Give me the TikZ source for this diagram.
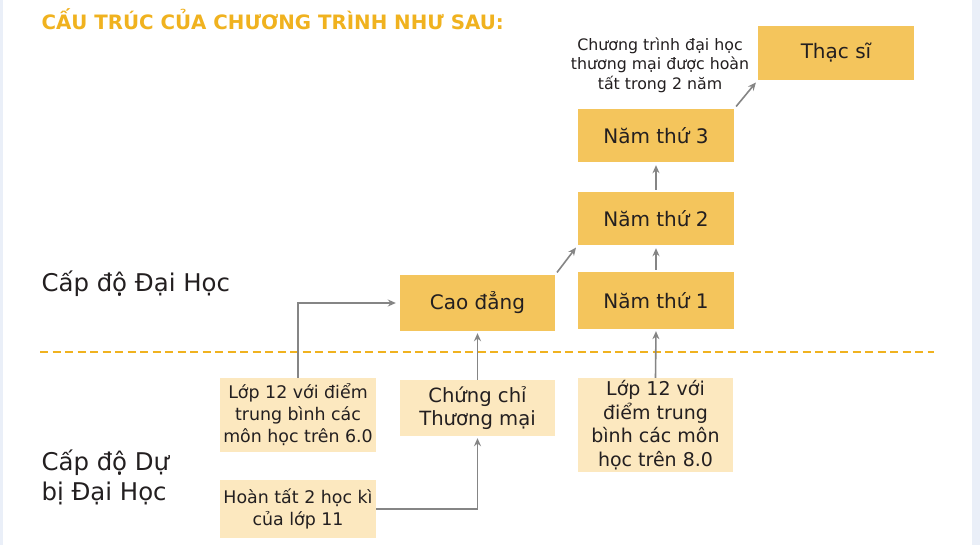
\documentclass[tikz,border=0pt]{standalone}
\usepackage{fontspec}
\setmainfont{DejaVu Sans}
\usetikzlibrary{arrows.meta}
\definecolor{vang}{HTML}{F4C55C}
\definecolor{kem}{HTML}{FCE8BF}
\definecolor{cam}{HTML}{F0B21F}
\definecolor{xam}{HTML}{858585}
\definecolor{chu}{HTML}{231F20}
\definecolor{vien}{HTML}{EAEFF8}

\begin{document}
\begin{tikzpicture}[x=1pt,y=-1pt,
    khoi/.style={fill=vang,text=chu,minimum width=156pt,minimum height=54pt,inner sep=0pt,
      font=\fontsize{20}{24}\selectfont},
    nhat/.style={fill=kem,text=chu,minimum width=156pt,inner sep=0pt,align=center,
      font=\fontsize{17.4}{22}\selectfont},
    mui/.style={draw=xam,line width=1.6pt,-{Stealth[length=8pt,width=7pt]}}]
    \fill[vien] (0,0) rectangle (980,545);
    \fill[white] (3,0) rectangle (972,545);
    \useasboundingbox (0,0) rectangle (980,545);

    \node[anchor=west,text=cam,font=\fontsize{19.8}{22}\selectfont\bfseries] (tieude) at (38,19)
      {CẤU TRÚC CỦA CHƯƠNG TRÌNH NHƯ SAU:};

    \node[khoi] (thacsi) at (836,53) {Thạc sĩ};
    \node[khoi,minimum height=53pt] (nam3) at (656,135.5) {Năm thứ 3};
    \node[khoi,minimum height=53pt] (nam2) at (656,218.5) {Năm thứ 2};
    \node[khoi,minimum height=57pt] (nam1) at (656,300.5) {Năm thứ 1};
    \node[khoi,minimum width=155pt,minimum height=56pt] (caodang) at (477.5,303) {Cao đẳng};

    \node[nhat,minimum height=74pt] (lop12a) at (298,415) {Lớp 12 với điểm\\trung bình các\\môn học trên 6.0};
    \node[nhat,minimum width=155pt,minimum height=56pt,font=\fontsize{19.6}{23}\selectfont] (chungchi) at (477.5,408)
      {Chứng chỉ\\Thương mại};
    \node[nhat,minimum width=155pt,minimum height=94pt,font=\fontsize{19}{23.5}\selectfont] (lop12b) at (655.5,425)
      {Lớp 12 với\\điểm trung\\bình các môn\\học trên 8.0};
    \node[nhat,minimum height=58pt] (hoantat) at (298,509) {Hoàn tất 2 học kì\\của lớp 11};

    \node[align=center,text=chu,font=\fontsize{15.8}{19.5}\selectfont] (ghichu) at (660,65)
      {Chương trình đại học\\thương mại được hoàn\\tất trong 2 năm};

    \node[anchor=west,text=chu,font=\fontsize{24.4}{30}\selectfont] (daihoc) at (38,284) {Cấp độ Đại Học};
    \node[anchor=west,align=left,text=chu,font=\fontsize{24.4}{30}\selectfont] (dubi) at (38,477)
      {Cấp độ Dự\\bị Đại Học};

    \draw[cam,line width=1.5pt,dash pattern=on 8pt off 4.5pt] (40,352) -- (934,352);

    \draw[mui,shorten >=4pt] (lop12a.north) |- (caodang.west);
    \draw[mui,shorten >=2pt] (chungchi.north) -- (caodang.south);
    \draw[mui,shorten >=2pt] (hoantat.east) -| (chungchi.south);
    \draw[mui,shorten >=2pt] (lop12b.north) -- (nam1.south);
    \draw[mui,shorten >=3pt,shorten <=2pt] (nam1.north) -- (nam2.south);
    \draw[mui,shorten >=3pt,shorten <=2pt] (nam2.north) -- (nam3.south);
    \draw[mui,shorten >=3pt,shorten <=3pt] (caodang.north east) -- (nam2.south west);
    \draw[mui,shorten >=3pt,shorten <=3pt] (nam3.north east) -- (thacsi.south west);
\end{tikzpicture}
\end{document}
